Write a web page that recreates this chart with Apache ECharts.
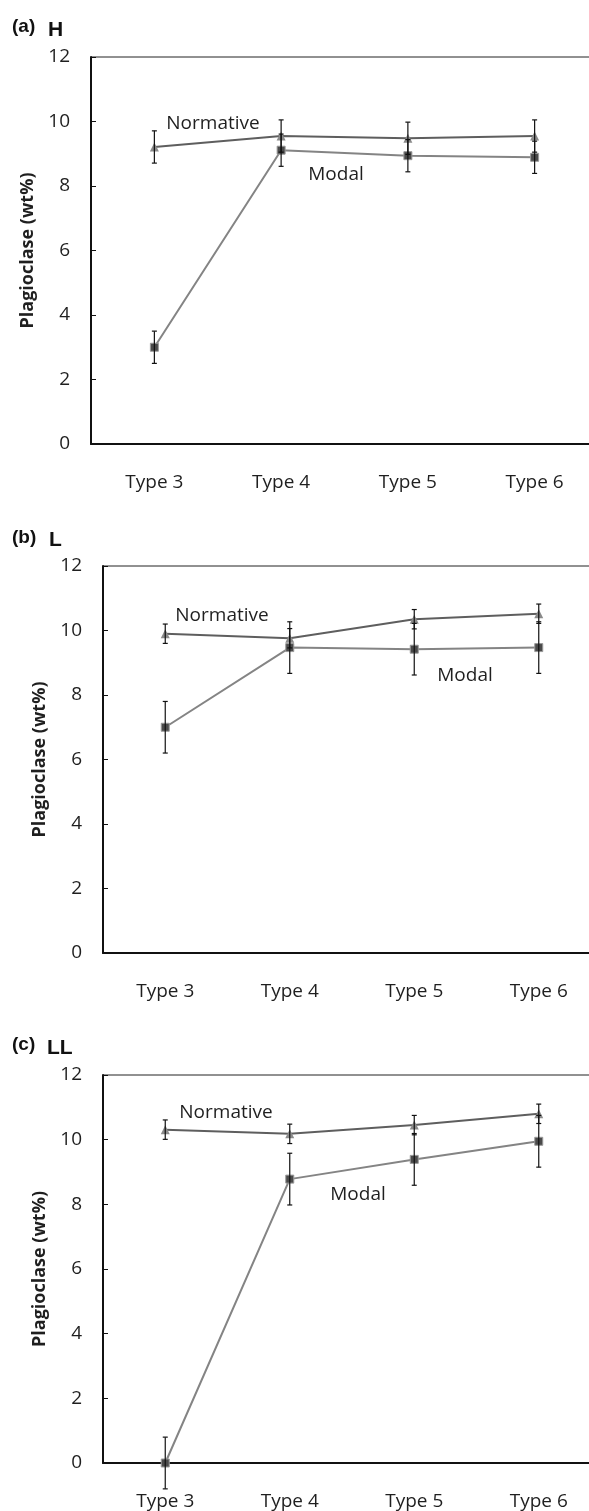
<!DOCTYPE html>
<html>
<head>
<meta charset="utf-8">
<script src="https://cdn.jsdelivr.net/npm/echarts@6/dist/echarts.min.js"></script>
<style>
html,body{margin:0;padding:0;background:#fff;}
#chart{width:589px;height:1511px;}
</style>
</head>
<body>
<div id="chart"></div>
<script>
// ---- Data ----
const categories = ['Type 3', 'Type 4', 'Type 5', 'Type 6'];
const yTicks = [0, 2, 4, 6, 8, 10, 12];

// (a) H
const aNormative = [9.21, 9.55, 9.48, 9.55];
const aNormativeErr = [0.5, 0.5, 0.5, 0.5];
const aModal = [3.0, 9.11, 8.94, 8.89];
const aModalErr = [0.5, 0.5, 0.5, 0.5];

// (b) L
const bNormative = [9.90, 9.76, 10.35, 10.52];
const bNormativeErr = [0.3, 0.3, 0.3, 0.3];
const bModal = [7.0, 9.47, 9.42, 9.47];
const bModalErr = [0.8, 0.8, 0.8, 0.8];

// (c) LL
const cNormative = [10.31, 10.18, 10.45, 10.80];
const cNormativeErr = [0.3, 0.3, 0.3, 0.3];
const cModal = [0.0, 8.78, 9.39, 9.95];
const cModalErr = [0.8, 0.8, 0.8, 0.8];

const panels = [
  {tag: '(a)', name: 'H', normative: aNormative, normErr: aNormativeErr, modal: aModal, modalErr: aModalErr},
  {tag: '(b)', name: 'L', normative: bNormative, normErr: bNormativeErr, modal: bModal, modalErr: bModalErr},
  {tag: '(c)', name: 'LL', normative: cNormative, normErr: cNormativeErr, modal: cModal, modalErr: cModalErr}
];

// ---- Layout (pixels) ----
const layout = [
  {left: 91, width: 507, top: 57, height: 387,
   tagX: 12, tagY: 27, nameX: 48, nameY: 30,
   normTxt: [213, 124], modalTxt: [336, 175]},
  {left: 103, width: 498, top: 566, height: 387,
   tagX: 12, tagY: 538, nameX: 49, nameY: 540,
   normTxt: [222, 616], modalTxt: [465, 676]},
  {left: 103, width: 498, top: 1075, height: 388,
   tagX: 12, tagY: 1045, nameX: 47, nameY: 1048,
   normTxt: [226, 1113], modalTxt: [358, 1195]}
];

const FONT = '"Open Sans", "Noto Sans", sans-serif';
const SANS = '"Liberation Sans", Arial, sans-serif';
const TXT = '#1f1f1f';

function errRender(params, api) {
  const i = api.value(0);
  const lo = api.coord([i, api.value(1)]);
  const hi = api.coord([i, api.value(2)]);
  const cw = 2.5;
  const st = {stroke: '#111', lineWidth: 1.2};
  return {
    type: 'group',
    children: [
      {type: 'line', shape: {x1: lo[0], y1: lo[1], x2: hi[0], y2: hi[1]}, style: st},
      {type: 'line', shape: {x1: lo[0] - cw, y1: lo[1], x2: lo[0] + cw, y2: lo[1]}, style: st},
      {type: 'line', shape: {x1: hi[0] - cw, y1: hi[1], x2: hi[0] + cw, y2: hi[1]}, style: st}
    ]
  };
}

const grid = [], xAxis = [], yAxis = [], series = [], graphic = [];

panels.forEach(function (p, k) {
  const L = layout[k];
  grid.push({left: L.left, width: L.width, top: L.top, height: L.height,
    outerBoundsMode: 'none', containLabel: false,
    show: true, borderColor: '#222', borderWidth: 1, backgroundColor: 'transparent'});
  xAxis.push({
    type: 'category', gridIndex: k, data: categories, boundaryGap: true,
    axisLine: {show: true, lineStyle: {color: '#111', width: 2}},
    axisTick: {show: false},
    axisLabel: {color: TXT, fontFamily: FONT, fontSize: 19, margin: 29},
    splitLine: {show: false}
  });
  yAxis.push({
    type: 'value', gridIndex: k, min: 0, max: 12, interval: 2,
    name: 'Plagioclase (wt%)', nameLocation: 'middle', nameGap: 52,
    nameTextStyle: {color: TXT, fontFamily: FONT, fontSize: 18, fontWeight: 'bold'},
    axisLine: {show: true, lineStyle: {color: '#111', width: 2}},
    axisTick: {show: true, inside: true, length: 5, lineStyle: {color: '#111', width: 1}},
    axisLabel: {color: TXT, fontFamily: FONT, fontSize: 19, margin: 21,
      formatter: function (v) { return yTicks.indexOf(v) >= 0 ? String(v) : ''; }},
    splitLine: {show: false}
  });
  series.push({
    type: 'line', xAxisIndex: k, yAxisIndex: k, data: p.normative,
    symbol: 'triangle', symbolSize: 9, z: 3,
    lineStyle: {color: '#5e5e5e', width: 2},
    itemStyle: {color: '#8a8a8a'}
  });
  series.push({
    type: 'line', xAxisIndex: k, yAxisIndex: k, data: p.modal,
    symbol: 'rect', symbolSize: 8, z: 3,
    lineStyle: {color: '#848484', width: 2},
    itemStyle: {color: '#4a4a4a', borderColor: '#9a9a9a', borderWidth: 1}
  });
  series.push({
    type: 'custom', xAxisIndex: k, yAxisIndex: k, clip: false, z: 4,
    renderItem: errRender, encode: {x: 0, y: [1, 2]},
    data: p.normative.map(function (v, i) { return [i, v - p.normErr[i], v + p.normErr[i]]; })
  });
  series.push({
    type: 'custom', xAxisIndex: k, yAxisIndex: k, clip: false, z: 4,
    renderItem: errRender, encode: {x: 0, y: [1, 2]},
    data: p.modal.map(function (v, i) { return [i, v - p.modalErr[i], v + p.modalErr[i]]; })
  });
  graphic.push({type: 'text', x: L.tagX, y: L.tagY,
    style: {text: p.tag, fill: '#111', fontFamily: SANS, fontSize: 19, fontWeight: 'bold',
      align: 'left', verticalAlign: 'middle'}});
  graphic.push({type: 'text', x: L.nameX, y: L.nameY,
    style: {text: p.name, fill: '#111', fontFamily: SANS, fontSize: 21, fontWeight: 'bold',
      align: 'left', verticalAlign: 'middle'}});
  graphic.push({type: 'text', x: L.normTxt[0], y: L.normTxt[1],
    style: {text: 'Normative', fill: TXT, fontFamily: FONT, fontSize: 19, align: 'center', verticalAlign: 'middle'}});
  graphic.push({type: 'text', x: L.modalTxt[0], y: L.modalTxt[1],
    style: {text: 'Modal', fill: TXT, fontFamily: FONT, fontSize: 19, align: 'center', verticalAlign: 'middle'}});
});

const chart = echarts.init(document.getElementById('chart'), null, {renderer: 'canvas'});
chart.setOption({
  animation: false,
  backgroundColor: '#fff',
  grid: grid, xAxis: xAxis, yAxis: yAxis, series: series, graphic: graphic
});
</script>
</body>
</html>
